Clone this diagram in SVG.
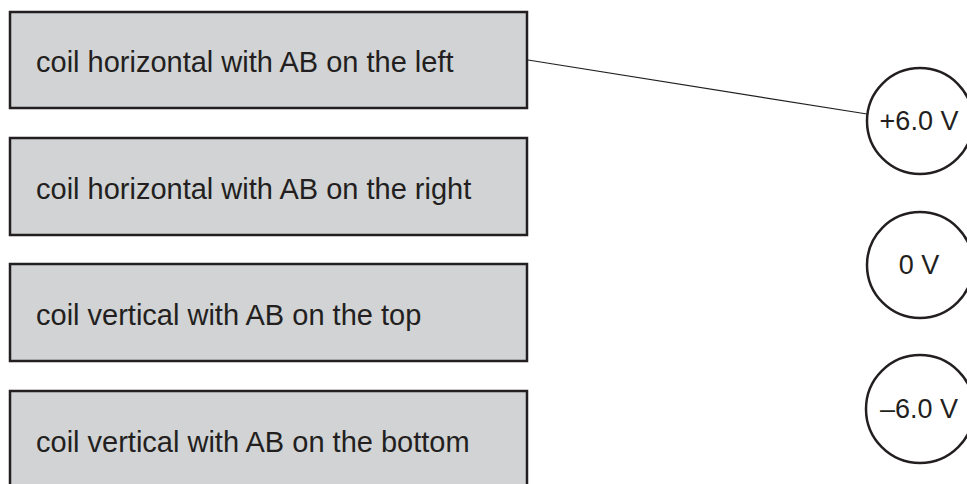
<svg xmlns="http://www.w3.org/2000/svg" width="967" height="484" viewBox="0 0 967 484">
<style>
.box{fill:#d1d3d4;stroke:#231f20;stroke-width:2.5}
.circ{fill:#fff;stroke:#231f20;stroke-width:2.5}
.lbl{font-family:"Liberation Sans",Arial,sans-serif;font-size:29px;fill:#231f20}
.v{font-family:"Liberation Sans",Arial,sans-serif;font-size:27px;fill:#231f20;text-anchor:middle}
.conn{stroke:#231f20;stroke-width:1.2;fill:none}
</style>
<rect width="967" height="484" fill="#fff"/>
<g id="box1"><rect class="box" x="10" y="12" width="517" height="96"/><text class="lbl" x="36" y="72">coil horizontal with AB on the left</text></g>
<g id="box2"><rect class="box" x="10" y="138" width="517" height="97"/><text class="lbl" x="36" y="199">coil horizontal with AB on the right</text></g>
<g id="box3"><rect class="box" x="10" y="264" width="517" height="97"/><text class="lbl" x="36" y="325">coil vertical with AB on the top</text></g>
<g id="box4"><rect class="box" x="10" y="391" width="517" height="97"/><text class="lbl" x="36" y="452">coil vertical with AB on the bottom</text></g>
<g id="vplus"><circle class="circ" cx="920" cy="121" r="53"/><text class="v" x="919" y="130">+6.0 V</text></g>
<g id="vzero"><circle class="circ" cx="920" cy="265" r="53"/><text class="v" x="919" y="274">0 V</text></g>
<g id="vminus"><circle class="circ" cx="920" cy="409" r="54"/><text class="v" x="919" y="418">–6.0 V</text></g>
<g id="connectors"><line class="conn" x1="528" y1="60" x2="867" y2="114"/></g>
</svg>
